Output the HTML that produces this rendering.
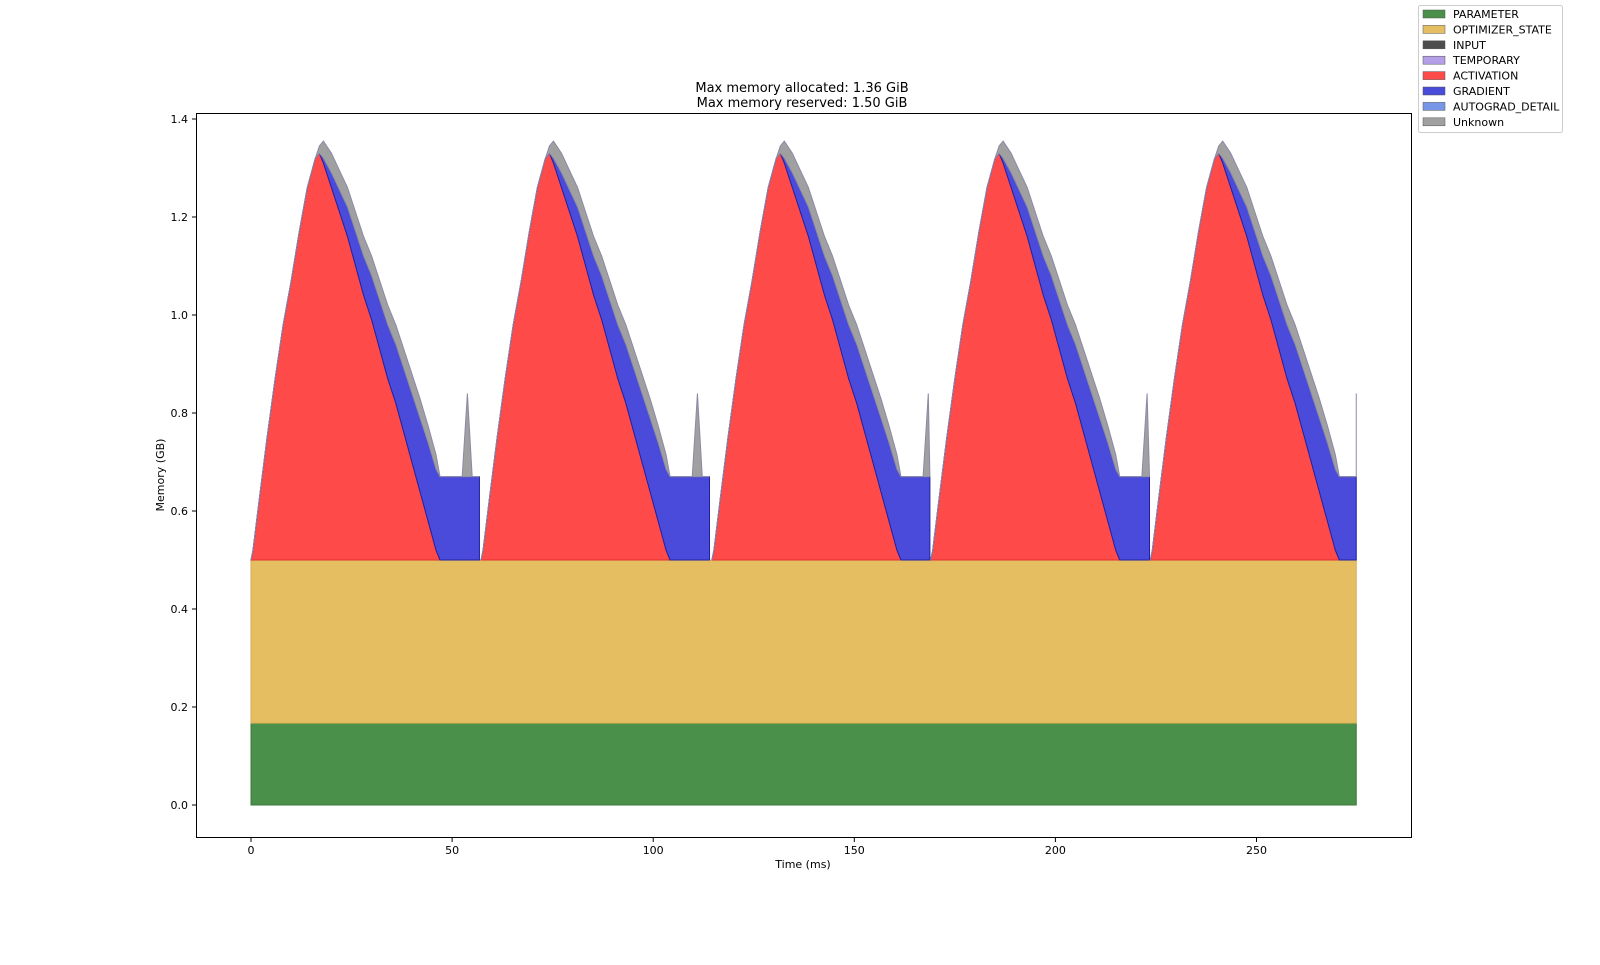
<!DOCTYPE html>
<html><head><meta charset="utf-8"><style>
body{margin:0;background:#fff;font-family:"Liberation Sans","DejaVu Sans",sans-serif}
svg text{font-family:"DejaVu Sans","Liberation Sans",sans-serif}
</style></head><body>
<svg id="chart" width="1600" height="960" xmlns="http://www.w3.org/2000/svg">
<rect width="1600" height="960" fill="#fff"/>
<g id="plot"></g>
<rect x="196.5" y="113.5" width="1215" height="724" fill="none" stroke="#000" stroke-width="1"/>
<text x="802" y="92" font-size="13" text-anchor="middle">Max memory allocated: 1.36 GiB</text>
<text x="802" y="107" font-size="13" text-anchor="middle">Max memory reserved: 1.50 GiB</text>
<text x="803" y="868" font-size="11" text-anchor="middle">Time (ms)</text>
<text x="164" y="475" font-size="11" text-anchor="middle" transform="rotate(-90 164 475)">Memory (GB)</text>
<g id="axes"></g>
<g id="legend"></g>
</svg>
<script>
const cycleStarts=[0,57.2,114.6,169,223.6];
const cycleEnds=[56.8,114.4,168.8,223.4,274.8];
const profileT=[0,0.5,2,4,6,8,10,12,14,16,17,18,20,22,24,26,28,30,32,34,36,38,40,42,44,46,47,48,50,52,52.5,53.8,55,56.8];
const activation=[0,0.02,0.12,0.25,0.37,0.48,0.57,0.67,0.76,0.82,0.83,0.81,0.76,0.71,0.66,0.60,0.54,0.49,0.43,0.37,0.32,0.26,0.20,0.14,0.08,0.02,0,0,0,0,0,0,0,0];
const gradient=[0,0,0,0,0,0,0,0,0,0,0,0.01,0.03,0.045,0.06,0.07,0.08,0.09,0.10,0.11,0.12,0.13,0.14,0.15,0.16,0.165,0.17,0.17,0.17,0.17,0.17,0.17,0.17,0.17];
const unknown=[0,0,0,0,0,0,0,0,0,0,0.015,0.035,0.04,0.04,0.04,0.04,0.04,0.04,0.04,0.04,0.04,0.04,0.04,0.04,0.035,0.03,0,0,0,0,0,0.17,0,0];
const parameterGB=0.167;
const optimizerGB=0.333;
const xTicks=[0,50,100,150,200,250];
const yTicks=[0.0,0.2,0.4,0.6,0.8,1.0,1.2,1.4];
const legendLabels=["PARAMETER","OPTIMIZER_STATE","INPUT","TEMPORARY","ACTIVATION","GRADIENT","AUTOGRAD_DETAIL","Unknown"];
const legendColors=["#4a904a","#e5be62","#4d4d4d","#b49ee8","#ff4a4a","#4b4bdb","#7896e8","#a0a0a0"];

const X=t=>251+t*4.022, Y=v=>805-v*490;
const NS="http://www.w3.org/2000/svg";
const plot=document.getElementById('plot');
function poly(pts,fill,stroke,name){
  const p=document.createElementNS(NS,'polygon');
  p.setAttribute('points',pts.map(q=>q[0].toFixed(2)+','+q[1].toFixed(2)).join(' '));
  p.setAttribute('fill',fill);p.setAttribute('stroke',stroke);p.setAttribute('stroke-width','1');
  
  
  plot.appendChild(p);
}
const t0=cycleStarts[0], tEnd=cycleEnds[cycleEnds.length-1];
poly([[X(t0),Y(0)],[X(tEnd),Y(0)],[X(tEnd),Y(parameterGB)],[X(t0),Y(parameterGB)]],'#4a904a','#3a7a3a','parameter-area');
const base=parameterGB+optimizerGB;
poly([[X(t0),Y(parameterGB)],[X(tEnd),Y(parameterGB)],[X(tEnd),Y(base)],[X(t0),Y(base)]],'#e5be62','#d8ae50','optimizer-state-area');
cycleStarts.forEach((s,c)=>{
  const e=cycleEnds[c];
  const ts=profileT.map(t=>Math.min(s+t,e));
  const a=activation.map(v=>base+v);
  const g=gradient.map((v,i)=>a[i]+v);
  const u=unknown.map((v,i)=>g[i]+v);
  function layer(lo,hi,fill,stroke,name){
    const pts=ts.map((t,i)=>[X(t),Y(hi[i])]);
    for(let i=ts.length-1;i>=0;i--)pts.push([X(ts[i]),Y(lo[i])]);
    poly(pts,fill,stroke,name);
  }
  layer(ts.map(()=>base),a,'#ff4a4a','#e03030','activation-area-'+(c+1));
  layer(a,g,'#4b4bdb','#2020a0','gradient-area-'+(c+1));
  layer(g,u,'#a0a0a0','#8a8aa8','unknown-area-'+(c+1));
});
const axes=document.getElementById('axes');
xTicks.forEach(t=>{
  const l=document.createElementNS(NS,'line');
  l.setAttribute('x1',X(t));l.setAttribute('x2',X(t));l.setAttribute('y1',838);l.setAttribute('y2',842);l.setAttribute('stroke','#000');
  
  
  axes.appendChild(l);
  const tx=document.createElementNS(NS,'text');
  tx.setAttribute('x',X(t));tx.setAttribute('y',854);tx.setAttribute('font-size','11');tx.setAttribute('text-anchor','middle');
  tx.textContent=t;
  
  
  axes.appendChild(tx);
});
yTicks.forEach(v=>{
  const l=document.createElementNS(NS,'line');
  l.setAttribute('x1',192);l.setAttribute('x2',196);l.setAttribute('y1',Y(v));l.setAttribute('y2',Y(v));l.setAttribute('stroke','#000');
  
  
  axes.appendChild(l);
  const tx=document.createElementNS(NS,'text');
  tx.setAttribute('x',188);tx.setAttribute('y',Y(v)+4);tx.setAttribute('font-size','11');tx.setAttribute('text-anchor','end');
  tx.textContent=v.toFixed(1);
  
  
  axes.appendChild(tx);
});
const lg=document.getElementById('legend');
const box=document.createElementNS(NS,'rect');
box.setAttribute('x',1418.5);box.setAttribute('y',5.5);box.setAttribute('width',144);box.setAttribute('height',127);box.setAttribute('rx',2);
box.setAttribute('fill','#fff');box.setAttribute('stroke','#ccc');


lg.appendChild(box);
legendLabels.forEach((lab,i)=>{
  const y=14+i*15.4;
  const r=document.createElementNS(NS,'rect');
  r.setAttribute('x',1423);r.setAttribute('y',y-4);r.setAttribute('width',22);r.setAttribute('height',8);
  r.setAttribute('fill',legendColors[i]);r.setAttribute('stroke','#555');r.setAttribute('stroke-width','0.5');
  
  
  lg.appendChild(r);
  const t=document.createElementNS(NS,'text');
  t.setAttribute('x',1453);t.setAttribute('y',y+4);t.setAttribute('font-size','11');
  t.textContent=lab;
  
  
  lg.appendChild(t);
});
</script>
</body></html>
